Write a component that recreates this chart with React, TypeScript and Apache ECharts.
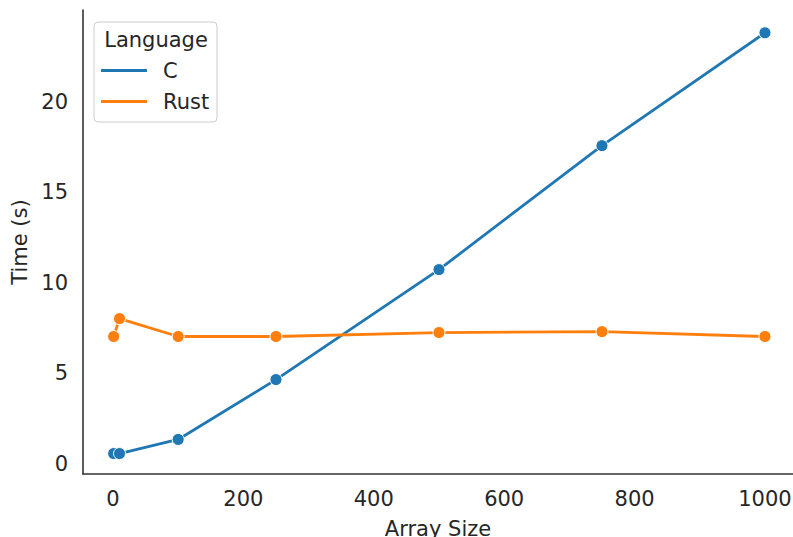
import React, { useEffect, useRef } from "react";
import * as echarts from "echarts";

const arraySizes = [1, 10, 100, 250, 500, 750, 1000];
const cTimes = [0.55, 0.55, 1.33, 4.64, 10.72, 17.57, 23.81];
const rustTimes = [7.02, 8.01, 7.02, 7.02, 7.24, 7.29, 7.02];
const xTicks = [0, 200, 400, 600, 800, 1000];
const yTicks = [0, 5, 10, 15, 20];
const seriesNames = ["C", "Rust"];
const seriesColors = ["#1f77b4", "#ff7f0e"];

const FONT = "DejaVu Sans";
const TEXT = "#262626";
const FS = 21;

export default function App() {
  const ref = useRef<HTMLDivElement>(null);
  useEffect(() => {
    if (!ref.current) return;
    const chart = echarts.init(ref.current, null, { renderer: "svg" });
    const mk = (name: string, ys: number[], color: string) => ({
      name,
      type: "line",
      data: arraySizes.map((x, i) => [x, ys[i]]),
      symbol: "circle",
      symbolSize: 12,
      showSymbol: true,
      lineStyle: { color, width: 2.8 },
      itemStyle: { color, borderColor: "#ffffff", borderWidth: 1 },
      emphasis: { disabled: true },
      z: 3,
    });
    chart.setOption({
      animation: false,
      backgroundColor: "#ffffff",
      grid: {
        left: 83,
        right: 0,
        top: 10,
        bottom: 63,
        containLabel: false,
        outerBoundsMode: "none",
      },
      xAxis: {
        type: "value",
        min: -46,
        max: 1043,
        name: "Array Size",
        nameLocation: "middle",
        nameGap: 44,
        nameTextStyle: { fontFamily: FONT, fontSize: FS, color: TEXT },
        axisLine: { show: true, onZero: false, lineStyle: { color: "#333333", width: 1.6 } },
        axisTick: { show: false },
        splitLine: { show: false },
        axisLabel: {
          customValues: xTicks,
          formatter: (v: number) => String(v),
          fontFamily: FONT,
          fontSize: FS,
          color: TEXT,
          margin: 14,
        },
      },
      yAxis: {
        type: "value",
        min: -0.58,
        max: 25.07,
        name: "Time (s)",
        nameLocation: "middle",
        nameGap: 50,
        nameTextStyle: { fontFamily: FONT, fontSize: FS, color: TEXT },
        axisLine: { show: true, onZero: false, lineStyle: { color: "#333333", width: 1.6 } },
        axisTick: { show: false },
        splitLine: { show: false },
        axisLabel: {
          customValues: yTicks,
          formatter: (v: number) => String(v),
          fontFamily: FONT,
          fontSize: FS,
          color: TEXT,
          margin: 15,
        },
      },
      legend: {
        orient: "vertical",
        left: 101,
        top: 60,
        padding: 0,
        itemGap: 10,
        itemWidth: 46,
        itemHeight: 3,
        icon: "rect",
        z: 20,
        data: seriesNames.map((n, i) => ({
          name: n,
          icon: "rect",
          itemStyle: { color: seriesColors[i], opacity: 1, borderWidth: 0 },
        })),
        textStyle: {
          fontFamily: FONT,
          fontSize: FS,
          lineHeight: 20,
          color: TEXT,
          padding: [0, 0, 0, 11],
        },
      },
      graphic: [
        {
          type: "rect",
          z: 0,
          shape: { x: 94, y: 22, width: 123, height: 100, r: 4 },
          style: { fill: "#ffffff", stroke: "#cccccc", lineWidth: 1 },
        },
        {
          type: "text",
          z: 1,
          x: 156,
          y: 40,
          style: {
            text: "Language",
            fontFamily: FONT,
            fontSize: FS,
            fill: TEXT,
            align: "center",
            verticalAlign: "middle",
          },
        },
      ],
      series: [
        mk(seriesNames[0], cTimes, seriesColors[0]),
        mk(seriesNames[1], rustTimes, seriesColors[1]),
      ],
    });
    return () => chart.dispose();
  }, []);
  return (
    <div
      ref={ref}
      style={{ position: "fixed", left: 0, top: 0, width: 793, height: 537 }}
    />
  );
}
